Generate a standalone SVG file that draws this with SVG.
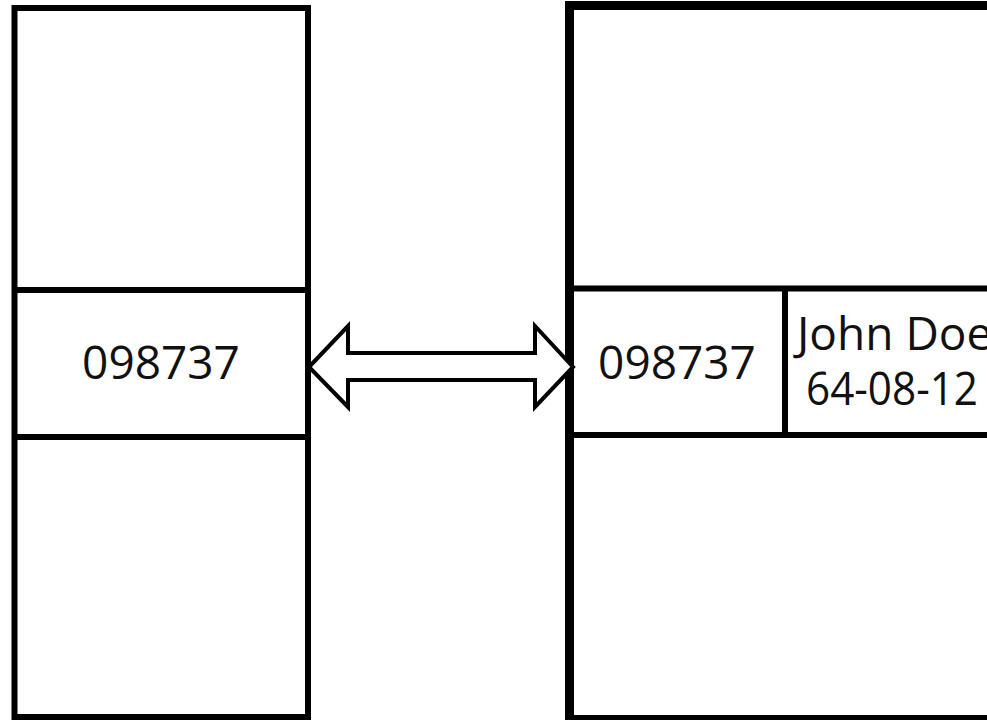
<svg xmlns="http://www.w3.org/2000/svg" width="987" height="720" viewBox="0 0 987 720">
<style>
.box{fill:#fff;stroke:#000;stroke-width:6}
.thick{fill:#fff;stroke:#000;stroke-width:9}
.div{stroke:#000;stroke-width:6;fill:none}
.txt{font-family:"Open Sans","Noto Sans",sans-serif;font-size:46px;fill:#111;text-anchor:middle}
.st{text-anchor:start}
.arrow{fill:#fff;stroke:#000;stroke-width:4;stroke-linejoin:miter}
</style>
<rect width="987" height="720" fill="#fff"/>
<g id="left-table">
<rect class="box" x="14.5" y="8" width="293.5" height="709"/>
<line class="div" x1="14.5" y1="290" x2="308" y2="290"/>
<line class="div" x1="14.5" y1="437" x2="308" y2="437"/>
<text class="txt" x="161" y="379">098737</text>
</g>
<g id="right-table">
<rect class="thick" x="569.5" y="5.5" width="440" height="714"/>
<line class="div" x1="569.5" y1="288.5" x2="1000" y2="288.5"/>
<line class="div" x1="569.5" y1="435" x2="1000" y2="435"/>
<line class="div" x1="785" y1="288.5" x2="785" y2="435"/>
<text class="txt" x="677" y="379">098737</text>
<text class="txt st" x="797" y="350">John Doe</text>
<text class="txt st" x="806" y="405" textLength="172" lengthAdjust="spacingAndGlyphs">64-08-12</text>
</g>
<g id="connectors">
<polygon class="arrow" points="309,367 348,326 348,353 535,353 535,326 573,367 535,407 535,380 348,380 348,407"/>
</g>
</svg>
